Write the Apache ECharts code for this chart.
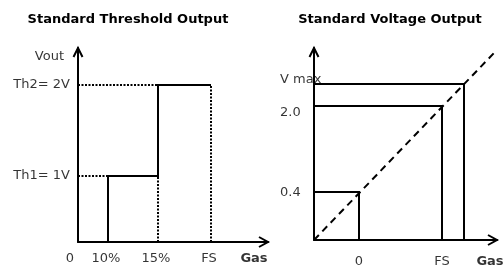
<!DOCTYPE html>
<html>
<head>
<meta charset="utf-8">
<script src="https://cdn.jsdelivr.net/npm/echarts@6/dist/echarts.min.js"></script>
<style>
html,body{margin:0;padding:0;background:#fff;}
#c{width:503px;height:265px;}
</style>
</head>
<body>
<div id="c"></div>
<script>
// ---- Data (schematic diagram units) ----
const leftTitle = 'Standard Threshold Output';
const leftXTicks = ['0', '10%', '15%', 'FS'];
const leftXPos = [0, 30, 80, 133];
const leftYTicks = ['Th1= 1V', 'Th2= 2V'];
const leftYPos = [66, 157];
const leftYName = 'Vout';
const leftXName = 'Gas';
const leftExtent = [190, 194];

const rightTitle = 'Standard Voltage Output';
const rightXTicks = ['0', 'FS'];
const rightXPos = [45, 128];
const rightVmaxX = 150;
const rightYTicks = ['0.4', '2.0', 'V max'];
const rightYPos = [48, 134, 156];
const rightXName = 'Gas';
const diagonalEnd = [180, 187];
const rightExtent = [183, 192];

// ---- Build ----
const FONT = 'DejaVu Sans';
const chart = echarts.init(document.getElementById('c'), null, {renderer: 'canvas'});

function textPoint(x, y, text, lab) {
  return {value: [x, y], label: Object.assign({show: true, formatter: text, color: '#000',
    fontFamily: FONT, fontSize: 13}, lab)};
}

// left chart paths
const leftStep = [[leftXPos[1], 0], [leftXPos[1], leftYPos[0]], [leftXPos[2], leftYPos[0]],
  [leftXPos[2], leftYPos[1]], [leftXPos[3], leftYPos[1]]];
const leftDotted = [
  [[0, leftYPos[1]], [leftXPos[2], leftYPos[1]]],
  [[0, leftYPos[0]], [leftXPos[1], leftYPos[0]]],
  [[leftXPos[2], 0], [leftXPos[2], leftYPos[0]]],
  [[leftXPos[3], 0], [leftXPos[3], leftYPos[1]]]
];
// right chart paths
const rightBoxX = [rightXPos[0], rightXPos[1], rightVmaxX];
const rightSolid = rightYPos.map((y, i) => [[0, y], [rightBoxX[i], y], [rightBoxX[i], 0]]);

const leftLabels = [];
leftXTicks.forEach((t, i) => leftLabels.push(textPoint(leftXPos[i], 0, t,
  {position: 'bottom', distance: 10, offset: [i === 0 ? -8 : -2, 0]})));
leftYTicks.forEach((t, i) => leftLabels.push(textPoint(0, leftYPos[i], t,
  {position: 'left', distance: 8})));
leftLabels.push(textPoint(0, 185, leftYName, {position: 'left', distance: 14}));
leftLabels.push(textPoint(176, 0, leftXName, {position: 'bottom', distance: 10, fontWeight: 'bold'}));

const rightLabels = [];
rightXTicks.forEach((t, i) => rightLabels.push(textPoint(rightXPos[i], 0, t,
  {position: 'bottom', distance: 15})));
const rightYOffsets = [1, 7, -4];
rightYTicks.forEach((t, i) => rightLabels.push(textPoint(0, rightYPos[i], t,
  {position: 'left', distance: 0, align: 'left', offset: [-34, rightYOffsets[i]]})));
rightLabels.push(textPoint(176, 0, rightXName, {position: 'bottom', distance: 15, fontWeight: 'bold'}));

function arrowItem(params, api) {
  const p = api.coord([api.value(0), api.value(1)]);
  const dir = api.value(2);
  let pts;
  if (dir === 0) pts = [[p[0] - 4.5, p[1] + 9], [p[0], p[1]], [p[0] + 4.5, p[1] + 9]];
  else pts = [[p[0] - 9, p[1] - 5], [p[0], p[1]], [p[0] - 9, p[1] + 5]];
  return {type: 'polyline', shape: {points: pts}, style: {stroke: '#000', lineWidth: 2, fill: null}};
}

const axisCommon = {
  type: 'value', axisLine: {show: true, onZero: false, lineStyle: {color: '#000', width: 2}},
  axisTick: {show: false}, axisLabel: {show: false}, splitLine: {show: false}
};

const solid = {color: '#000', width: 2, type: 'solid', opacity: 1};
const dotted = {color: '#000', width: 2, type: [2, 1.5], opacity: 1};
const dashed = {color: '#000', width: 2, type: [7, 5], opacity: 1};

chart.setOption({
  animation: false,
  backgroundColor: '#fff',
  title: [
    {text: leftTitle, left: 128, top: 13, textAlign: 'center', padding: 0,
      textStyle: {fontFamily: FONT, fontSize: 13, fontWeight: 'bold', color: '#000'}},
    {text: rightTitle, left: 390, top: 13, textAlign: 'center', padding: 0,
      textStyle: {fontFamily: FONT, fontSize: 13, fontWeight: 'bold', color: '#000'}}
  ],
  grid: [
    {left: 78, top: 48, width: 190, height: 194},
    {left: 314, top: 48, width: 183, height: 192}
  ],
  xAxis: [
    Object.assign({gridIndex: 0, min: 0, max: leftExtent[0]}, axisCommon),
    Object.assign({gridIndex: 1, min: 0, max: rightExtent[0]}, axisCommon)
  ],
  yAxis: [
    Object.assign({gridIndex: 0, min: 0, max: leftExtent[1]}, axisCommon),
    Object.assign({gridIndex: 1, min: 0, max: rightExtent[1]}, axisCommon)
  ],
  series: [
    {type: 'lines', coordinateSystem: 'cartesian2d', xAxisIndex: 0, yAxisIndex: 0, polyline: true,
      lineStyle: dotted, data: leftDotted.map(c => ({coords: c})), silent: true},
    {type: 'lines', coordinateSystem: 'cartesian2d', xAxisIndex: 0, yAxisIndex: 0, polyline: true,
      lineStyle: solid, data: [{coords: leftStep}], silent: true},
    {type: 'lines', coordinateSystem: 'cartesian2d', xAxisIndex: 1, yAxisIndex: 1, polyline: true,
      lineStyle: solid, data: rightSolid.map(c => ({coords: c})), silent: true},
    {type: 'lines', coordinateSystem: 'cartesian2d', xAxisIndex: 1, yAxisIndex: 1, polyline: true,
      lineStyle: dashed, data: [{coords: [[0, 0], diagonalEnd]}], silent: true},
    {type: 'custom', xAxisIndex: 0, yAxisIndex: 0, renderItem: arrowItem, silent: true,
      data: [[0, leftExtent[1], 0], [leftExtent[0], 0, 1]]},
    {type: 'custom', xAxisIndex: 1, yAxisIndex: 1, renderItem: arrowItem, silent: true,
      data: [[0, rightExtent[1], 0], [rightExtent[0], 0, 1]]},
    {type: 'scatter', xAxisIndex: 0, yAxisIndex: 0, symbolSize: 0, silent: true, data: leftLabels},
    {type: 'scatter', xAxisIndex: 1, yAxisIndex: 1, symbolSize: 0, silent: true, data: rightLabels}
  ]
});
</script>
</body>
</html>
